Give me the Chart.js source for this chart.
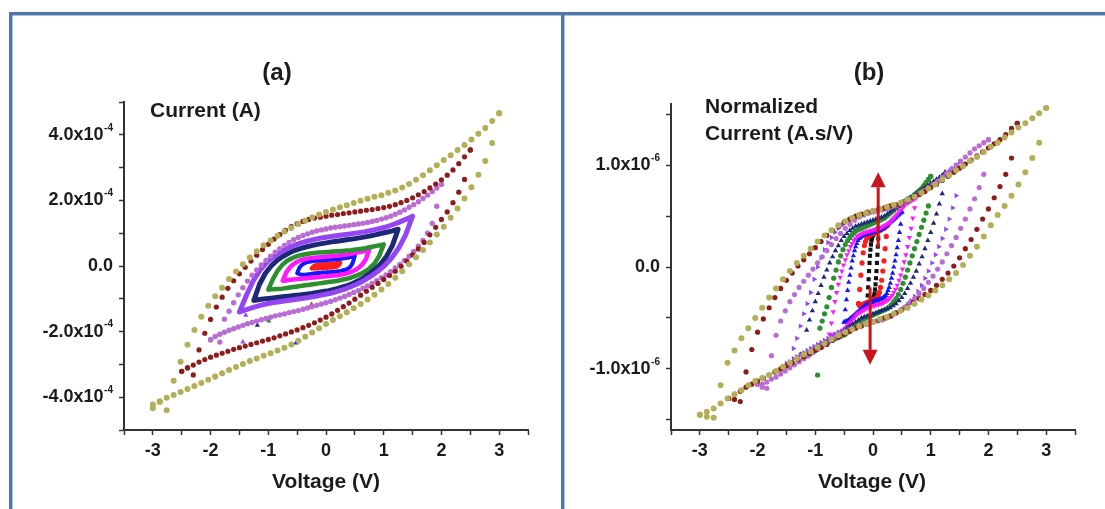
<!DOCTYPE html>
<html>
<head>
<meta charset="utf-8">
<title>Current–voltage sweeps</title>
<script src="https://cdn.jsdelivr.net/npm/chart.js@4.4.1/dist/chart.umd.min.js"></script>
<style>
  html, body { margin: 0; padding: 0; background: #ffffff; }
  body { position: relative; width: 1105px; height: 509px; overflow: hidden; }
  canvas { position: absolute; }
  #panelA { left: 12px; top: 15px; }
  #panelB { left: 565px; top: 15px; }
  .rule { position: absolute; background: #4f77aa; box-shadow: 0 0 1px 0.5px rgba(79,119,170,0.45); }
</style>
</head>
<body>
<div class="rule" style="left:9px;top:12px;width:1096px;height:3px"></div>
<div class="rule" style="left:9px;top:12px;width:3px;height:497px"></div>
<div class="rule" style="left:561px;top:12px;width:3px;height:497px"></div>
<canvas id="panelA" width="548" height="494"></canvas>
<canvas id="panelB" width="540" height="494"></canvas>
<script>
// ---- sweep positions, as a fraction of the vertex voltage ----
const sweepFine = [-1,-0.96,-0.92,-0.88,-0.84,-0.8,-0.76,-0.72,-0.68,-0.64,
  -0.6,-0.56,-0.52,-0.48,-0.44,-0.4,-0.36,-0.32,-0.28,-0.24,
  -0.2,-0.16,-0.12,-0.08,-0.04,0,0.04,0.08,0.12,0.16,
  0.2,0.24,0.28,0.32,0.36,0.4,0.44,0.48,0.52,0.56,
  0.6,0.64,0.68,0.72,0.76,0.8,0.84,0.88,0.92,0.96,1];
const sweepCoarse = [-1,-0.92,-0.84,-0.76,-0.68,-0.6,-0.52,-0.44,-0.36,-0.28,
  -0.2,-0.12,-0.04,0.04,0.12,0.2,0.28,0.36,0.44,0.52,
  0.6,0.68,0.76,0.84,0.92,1];

// vertex voltages (V) of each sweep
const vertexV = { olive: 3, wine: 2.5, orchid: 2, violet: 1.5, navy: 1.25, green: 1, magenta: 0.75, blue: 0.5, red: 0.25, black: 0.1 };

// ---- (a) current, units of 1e-4 A; Fwd = -V..+V, Rev = +V..-V ----
const aOliveFwd = [-4.34,-4.15,-4.40,-3.50,-2.92,-2.40,-1.95,-1.55,-1.21,-0.92,
  -0.66,-0.40,-0.17,0.05,0.26,0.45,0.63,0.78,0.92,1.05,
  1.16,1.28,1.38,1.48,1.57,1.65,1.72,1.79,1.85,1.92,
  1.99,2.05,2.11,2.16,2.23,2.30,2.39,2.50,2.63,2.77,
  2.92,3.07,3.23,3.38,3.54,3.69,3.86,4.03,4.21,4.42,4.66];
const aOliveRev = [4.66,3.75,3.20,2.78,2.40,2.06,1.75,1.47,1.20,0.96,
  0.72,0.49,0.27,0.05,-0.16,-0.36,-0.55,-0.72,-0.88,-1.02,
  -1.16,-1.29,-1.41,-1.53,-1.65,-1.77,-1.90,-2.03,-2.16,-2.28,
  -2.39,-2.49,-2.58,-2.66,-2.74,-2.82,-2.90,-2.99,-3.08,-3.17,
  -3.27,-3.37,-3.47,-3.57,-3.66,-3.75,-3.84,-3.93,-4.02,-4.12,-4.22];
const aWineFwd = [-3.21,-3.10,-3.32,-2.56,-2.05,-1.63,-1.25,-0.95,-0.68,-0.45,
  -0.24,-0.04,0.15,0.33,0.50,0.66,0.82,0.96,1.09,1.20,
  1.29,1.36,1.42,1.46,1.49,1.52,1.55,1.57,1.60,1.62,
  1.65,1.67,1.70,1.72,1.75,1.78,1.82,1.87,1.93,2.00,
  2.08,2.17,2.27,2.38,2.50,2.63,2.77,2.93,3.12,3.33,3.54];
const aWineRev = [3.54,2.64,2.25,1.93,1.65,1.42,1.18,0.95,0.72,0.52,
  0.34,0.15,-0.01,-0.16,-0.29,-0.41,-0.53,-0.65,-0.77,-0.89,
  -1.01,-1.13,-1.24,-1.35,-1.46,-1.56,-1.65,-1.73,-1.81,-1.88,
  -1.95,-2.01,-2.07,-2.13,-2.19,-2.24,-2.29,-2.34,-2.39,-2.44,
  -2.49,-2.54,-2.60,-2.66,-2.72,-2.78,-2.85,-2.93,-3.02,-3.11,-3.21];
const aOrchidFwd = [-2.25,-3.38,-2.32,-1.62,-1.38,-1.12,-0.88,-0.66,-0.46,-0.28,
  -0.12,0.03,0.17,0.30,0.42,0.53,0.63,0.72,0.80,0.87,
  0.93,0.98,1.03,1.07,1.10,1.13,1.16,1.18,1.20,1.22,
  1.24,1.26,1.28,1.30,1.33,1.36,1.39,1.43,1.47,1.52,
  1.58,1.64,1.71,1.79,1.87,1.96,2.06,2.16,2.27,2.38,2.49];
const aOrchidRev = [2.49,1.82,1.30,1.00,0.78,0.60,0.44,0.30,0.17,0.05,
  -0.06,-0.17,-0.27,-0.36,-0.45,-0.53,-0.61,-0.68,-0.75,-0.81,
  -0.87,-0.93,-0.98,-1.03,-1.08,-1.12,-1.16,-1.20,-1.24,-1.28,
  -1.32,-1.36,-1.39,-1.42,-1.46,-1.49,-1.52,-1.56,-1.60,-1.64,
  -1.68,-1.72,-1.76,-1.81,-1.86,-1.91,-1.96,-2.02,-2.08,-2.15,-2.25];
const aVioletFwd = [-1.40,-0.90,-0.45,-0.12,0.12,0.30,0.44,0.55,0.64,0.71,
  0.77,0.82,0.86,0.89,0.92,0.95,0.98,1.01,1.04,1.08,
  1.13,1.18,1.25,1.33,1.42,1.52];
const aVioletRev = [1.52,0.95,0.55,0.25,0.02,-0.16,-0.31,-0.44,-0.55,-0.64,
  -0.72,-0.78,-0.84,-0.88,-0.92,-0.96,-0.99,-1.02,-1.05,-1.08,
  -1.11,-1.15,-1.20,-1.26,-1.33,-1.40];
const aNavyFwd = [-1.05,-0.55,-0.22,0.00,0.17,0.29,0.39,0.47,0.53,0.58,
  0.62,0.66,0.69,0.72,0.75,0.77,0.80,0.82,0.85,0.88,
  0.91,0.95,0.99,1.03,1.07,1.12];
const aNavyRev = [1.12,0.62,0.30,0.07,-0.10,-0.24,-0.36,-0.46,-0.54,-0.61,
  -0.66,-0.71,-0.75,-0.78,-0.81,-0.84,-0.86,-0.88,-0.90,-0.92,
  -0.94,-0.96,-0.98,-1.00,-1.02,-1.05];
const aGreenFwd = [-0.72,-0.40,-0.15,0.03,0.15,0.23,0.29,0.33,0.36,0.38,
  0.40,0.41,0.42,0.43,0.44,0.45,0.46,0.47,0.48,0.50,
  0.52,0.54,0.57,0.60,0.63,0.66];
const aGreenRev = [0.66,0.30,0.08,-0.06,-0.16,-0.24,-0.30,-0.35,-0.39,-0.42,
  -0.45,-0.47,-0.49,-0.51,-0.53,-0.55,-0.57,-0.59,-0.61,-0.63,
  -0.65,-0.67,-0.69,-0.70,-0.71,-0.72];
const aMagentaFwd = [-0.45,-0.20,-0.05,0.05,0.12,0.17,0.20,0.22,0.24,0.25,
  0.26,0.27,0.28,0.29,0.30,0.31,0.32,0.33,0.34,0.36,
  0.38,0.40,0.42,0.44,0.47,0.50];
const aMagentaRev = [0.50,0.20,0.05,-0.05,-0.12,-0.17,-0.21,-0.24,-0.26,-0.28,
  -0.29,-0.30,-0.31,-0.32,-0.33,-0.34,-0.35,-0.36,-0.37,-0.38,
  -0.39,-0.40,-0.41,-0.42,-0.44,-0.45];
const aBlueFwd = [-0.22,-0.05,0.03,0.08,0.11,0.13,0.14,0.15,0.16,0.16,
  0.17,0.17,0.18,0.18,0.19,0.19,0.20,0.20,0.21,0.22,
  0.23,0.24,0.25,0.27,0.29,0.31];
const aBlueRev = [0.31,0.08,-0.03,-0.08,-0.11,-0.13,-0.15,-0.16,-0.17,-0.18,
  -0.18,-0.19,-0.19,-0.20,-0.20,-0.21,-0.21,-0.22,-0.23,-0.24,
  -0.25,-0.26,-0.27,-0.27,-0.25,-0.22];
const aRedFwd = [-0.08,-0.03,0.00,0.02,0.03,0.04,0.04,0.05,0.05,0.05,
  0.05,0.06,0.06,0.06,0.06,0.07,0.07,0.07,0.07,0.08,
  0.08,0.08,0.09,0.09,0.10,0.10];
const aRedRev = [0.10,0.04,0.00,-0.02,-0.03,-0.04,-0.04,-0.05,-0.05,-0.05,
  -0.05,-0.06,-0.06,-0.06,-0.06,-0.07,-0.07,-0.07,-0.07,-0.08,
  -0.08,-0.08,-0.08,-0.08,-0.08,-0.08];
// isolated first-step readings in (a)
const aStrayV = [-1.44, -1.39, -1.19, -0.99, -0.52, -0.25];
const aStrayI = [-2.32, -1.50, -1.81, -1.68, -2.35, -1.17];
const aStraySeries = ['violet', 'violet', 'navy', 'green', 'blue', 'red'];

// ---- (b) normalized current, units of 1e-6 A.s/V ----
const bOliveFwd = [-1.45,-1.47,-1.48,-1.16,-0.94,-0.82,-0.70,-0.60,-0.50,-0.40,
  -0.30,-0.21,-0.12,-0.04,0.04,0.11,0.18,0.25,0.31,0.36,
  0.41,0.45,0.48,0.51,0.53,0.55,0.57,0.59,0.61,0.63,
  0.66,0.69,0.73,0.77,0.81,0.86,0.90,0.95,0.99,1.04,
  1.08,1.13,1.18,1.22,1.27,1.32,1.37,1.41,1.46,1.51,1.56];
const bOliveRev = [1.56,1.22,1.07,0.93,0.81,0.70,0.60,0.51,0.41,0.30,
  0.20,0.11,0.02,-0.06,-0.12,-0.18,-0.23,-0.28,-0.32,-0.36,
  -0.40,-0.43,-0.46,-0.49,-0.51,-0.54,-0.56,-0.58,-0.61,-0.64,
  -0.67,-0.71,-0.75,-0.79,-0.83,-0.86,-0.90,-0.94,-0.98,-1.02,
  -1.06,-1.09,-1.12,-1.16,-1.21,-1.25,-1.29,-1.34,-1.39,-1.42,-1.45];
const bWineFwd = [-1.29,-1.30,-1.32,-1.03,-0.81,-0.64,-0.51,-0.40,-0.30,-0.21,
  -0.13,-0.06,0.01,0.07,0.13,0.19,0.25,0.31,0.36,0.40,
  0.44,0.47,0.50,0.52,0.54,0.55,0.57,0.58,0.60,0.61,
  0.63,0.65,0.68,0.71,0.74,0.78,0.81,0.85,0.89,0.93,
  0.97,1.01,1.05,1.09,1.13,1.17,1.21,1.25,1.30,1.36,1.41];
const bWineRev = [1.41,1.07,0.91,0.79,0.68,0.57,0.47,0.37,0.27,0.18,
  0.09,0.01,-0.06,-0.12,-0.18,-0.23,-0.27,-0.31,-0.35,-0.39,
  -0.42,-0.45,-0.48,-0.50,-0.52,-0.54,-0.56,-0.58,-0.60,-0.63,
  -0.66,-0.69,-0.72,-0.76,-0.79,-0.82,-0.85,-0.88,-0.91,-0.94,
  -0.97,-1.00,-1.03,-1.06,-1.09,-1.12,-1.15,-1.18,-1.22,-1.25,-1.29];
const bOrchidFwd = [-1.15,-1.18,-1.19,-0.87,-0.67,-0.53,-0.43,-0.34,-0.27,-0.20,
  -0.14,-0.08,-0.02,0.04,0.10,0.16,0.22,0.28,0.33,0.38,
  0.42,0.46,0.49,0.51,0.53,0.54,0.55,0.56,0.57,0.59,
  0.60,0.62,0.64,0.66,0.69,0.72,0.75,0.78,0.81,0.84,
  0.88,0.92,0.96,1.00,1.04,1.08,1.12,1.16,1.19,1.22,1.25];
const bOrchidRev = [1.25,0.91,0.78,0.67,0.57,0.47,0.38,0.29,0.21,0.13,
  0.05,-0.02,-0.09,-0.15,-0.21,-0.26,-0.31,-0.35,-0.39,-0.42,
  -0.45,-0.48,-0.50,-0.52,-0.53,-0.54,-0.55,-0.56,-0.58,-0.60,
  -0.62,-0.64,-0.66,-0.69,-0.72,-0.75,-0.78,-0.81,-0.84,-0.87,
  -0.90,-0.93,-0.96,-0.99,-1.02,-1.05,-1.08,-1.10,-1.13,-1.15,-1.15];
const bVioletFwd = [-0.95,-0.98,-0.80,-0.70,-0.58,-0.46,-0.36,-0.25,-0.12,0.00,
  0.09,0.17,0.24,0.29,0.34,0.38,0.41,0.44,0.46,0.48,
  0.49,0.50,0.51,0.52,0.53,0.54,0.55,0.56,0.57,0.58,
  0.59,0.60,0.61,0.62,0.63,0.65,0.67,0.69,0.71,0.73,
  0.75,0.77,0.79,0.82,0.85,0.88,0.91,0.94,0.97,1.00,1.03];
const bVioletRev = [1.03,0.70,0.58,0.47,0.37,0.28,0.20,0.12,0.04,-0.04,
  -0.11,-0.18,-0.24,-0.29,-0.33,-0.37,-0.40,-0.43,-0.45,-0.47,
  -0.49,-0.50,-0.51,-0.52,-0.53,-0.54,-0.55,-0.56,-0.57,-0.58,
  -0.59,-0.60,-0.61,-0.62,-0.63,-0.64,-0.66,-0.68,-0.70,-0.72,
  -0.74,-0.76,-0.78,-0.80,-0.82,-0.84,-0.86,-0.88,-0.90,-0.93,-0.95];
const bNavyFwd = [-0.86,-0.88,-0.62,-0.52,-0.43,-0.34,-0.26,-0.18,-0.10,-0.03,
  0.04,0.10,0.16,0.21,0.26,0.30,0.33,0.36,0.38,0.40,
  0.41,0.42,0.43,0.44,0.45,0.46,0.47,0.48,0.49,0.50,
  0.52,0.54,0.56,0.58,0.60,0.62,0.64,0.66,0.68,0.70,
  0.72,0.74,0.76,0.78,0.80,0.82,0.84,0.86,0.88,0.90,0.93];
const bNavyRev = [0.93,0.72,0.62,0.52,0.43,0.34,0.26,0.18,0.10,0.03,
  -0.04,-0.10,-0.16,-0.21,-0.26,-0.30,-0.33,-0.36,-0.38,-0.40,
  -0.41,-0.42,-0.43,-0.44,-0.45,-0.46,-0.47,-0.48,-0.49,-0.50,
  -0.52,-0.54,-0.56,-0.58,-0.60,-0.62,-0.64,-0.66,-0.68,-0.70,
  -0.72,-0.74,-0.76,-0.78,-0.80,-0.82,-0.84,-0.86,-0.88,-0.90,-0.86];
const bGreenFwd = [-0.80,-1.06,-0.60,-0.53,-0.46,-0.39,-0.30,-0.20,-0.11,-0.03,
  0.05,0.11,0.17,0.22,0.26,0.29,0.32,0.34,0.36,0.37,
  0.38,0.39,0.40,0.41,0.42,0.43,0.44,0.45,0.46,0.47,
  0.48,0.50,0.52,0.54,0.56,0.58,0.60,0.62,0.64,0.65,
  0.67,0.68,0.69,0.71,0.73,0.75,0.77,0.80,0.83,0.86,0.89];
const bGreenRev = [0.89,0.60,0.53,0.46,0.39,0.32,0.25,0.18,0.11,0.04,
  -0.03,-0.10,-0.16,-0.22,-0.27,-0.31,-0.34,-0.37,-0.39,-0.41,
  -0.42,-0.43,-0.44,-0.45,-0.46,-0.47,-0.48,-0.49,-0.50,-0.51,
  -0.52,-0.54,-0.56,-0.58,-0.60,-0.62,-0.64,-0.66,-0.67,-0.68,
  -0.69,-0.70,-0.71,-0.72,-0.73,-0.74,-0.75,-0.76,-0.77,-0.78,-0.80];
const bMagentaFwd = [-0.66,-0.55,-0.44,-0.34,-0.25,-0.17,-0.10,-0.04,0.02,0.07,
  0.12,0.16,0.20,0.23,0.26,0.28,0.30,0.31,0.32,0.33,
  0.34,0.34,0.35,0.35,0.36,0.36,0.37,0.37,0.38,0.38,
  0.39,0.40,0.41,0.42,0.43,0.44,0.46,0.48,0.50,0.52,
  0.54,0.56,0.58,0.60,0.62,0.63,0.64,0.65,0.66,0.67,0.68];
const bMagentaRev = [0.68,0.58,0.48,0.38,0.29,0.20,0.12,0.05,-0.02,-0.08,
  -0.13,-0.18,-0.22,-0.25,-0.28,-0.30,-0.32,-0.33,-0.34,-0.35,
  -0.36,-0.36,-0.37,-0.37,-0.38,-0.38,-0.39,-0.39,-0.40,-0.41,
  -0.42,-0.43,-0.44,-0.45,-0.46,-0.48,-0.50,-0.52,-0.54,-0.56,
  -0.58,-0.60,-0.62,-0.63,-0.64,-0.65,-0.66,-0.66,-0.67,-0.67,-0.66];
const bBlueFwd = [-0.54,-0.42,-0.32,-0.23,-0.15,-0.08,-0.01,0.06,0.11,0.16,
  0.20,0.23,0.26,0.28,0.29,0.30,0.31,0.31,0.32,0.32,
  0.32,0.33,0.33,0.33,0.34,0.34,0.34,0.35,0.35,0.35,
  0.36,0.36,0.37,0.37,0.38,0.39,0.40,0.41,0.42,0.43,
  0.44,0.45,0.46,0.47,0.48,0.49,0.50,0.51,0.52,0.53,0.54];
const bBlueRev = [0.54,0.42,0.34,0.26,0.19,0.12,0.06,0.00,-0.06,-0.11,
  -0.16,-0.20,-0.23,-0.26,-0.28,-0.29,-0.30,-0.31,-0.31,-0.32,
  -0.32,-0.33,-0.33,-0.33,-0.34,-0.34,-0.35,-0.35,-0.36,-0.36,
  -0.37,-0.37,-0.38,-0.39,-0.40,-0.41,-0.42,-0.43,-0.44,-0.45,
  -0.46,-0.47,-0.48,-0.49,-0.50,-0.51,-0.52,-0.53,-0.53,-0.54,-0.54];
const bRedFwd = [-0.36,-0.22,-0.08,0.04,0.14,0.21,0.25,0.28,0.30,0.31,
  0.32,0.32,0.33,0.33,0.34,0.34,0.35,0.35,0.36,0.36,
  0.37,0.38,0.38,0.39,0.40,0.41];
const bRedRev = [0.41,0.30,0.18,0.06,-0.04,-0.13,-0.20,-0.25,-0.28,-0.30,
  -0.31,-0.32,-0.32,-0.33,-0.33,-0.34,-0.34,-0.35,-0.35,-0.36,
  -0.36,-0.37,-0.37,-0.38,-0.38,-0.36];
const bBlackFwd = [-0.35,-0.28,-0.20,-0.12,-0.04,0.04,0.11,0.17,0.22,0.26,
  0.28,0.30,0.31,0.32,0.33,0.33,0.34,0.34,0.35,0.35,
  0.36,0.36,0.37,0.37,0.38,0.38];
const bBlackRev = [0.38,0.28,0.20,0.12,0.04,-0.04,-0.11,-0.17,-0.22,-0.26,
  -0.28,-0.30,-0.31,-0.32,-0.33,-0.33,-0.34,-0.34,-0.35,-0.35,
  -0.36,-0.36,-0.37,-0.37,-0.37,-0.35];

// arrows in (b): voltage position, start and end current (1e-6 A.s/V)
const arrowV = [0.09, -0.05];
const arrowFrom = [0.19, -0.20];
const arrowTo = [0.93, -0.96];

// axis tick labels
const aTickValues = [4, 2, 0, -2, -4];
const aTickLabels = ['4.0x10', '2.0x10', '0.0', '-2.0x10', '-4.0x10'];
const aTickPowers = ['-4', '-4', '', '-4', '-4'];
const bTickValues = [1, 0, -1];
const bTickLabels = ['1.0x10', '0.0', '-1.0x10'];
const bTickPowers = ['-6', '', '-6'];

// ---- styling ----
const FONT = '"Liberation Sans", Arial, Helvetica, sans-serif';
const INK = '#1b1b1b';
const AXIS = '#333333';
const colors = {
  olive: '#b3af57', wine: '#8f1c1c', orchid: '#b96dd4', violet: '#9446f4', navy: '#1d2877',
  green: '#2c902f', magenta: '#ff18ff', blue: '#1616ff', red: '#ff1c1c', black: '#111111'
};
const shapes = {
  olive: ['circle', 0], wine: ['circle', 0], orchid: ['circle', 0], violet: ['triangle', 90],
  navy: ['triangle', 0], green: ['circle', 0], magenta: ['triangle', 180], blue: ['triangle', 0],
  red: ['circle', 0], black: ['rect', 0]
};

Chart.defaults.font.family = FONT;

function sweepLoop(amp, grid, fwd, rev) {
  const pts = fwd.map((y, i) => ({ x: amp * grid[i], y }));
  rev.forEach((y, i) => pts.push({ x: -amp * grid[i], y }));
  return pts;
}

function dotSet(key, pts, r) {
  const [shape, rot] = shapes[key];
  return {
    data: pts, showLine: false, pointStyle: shape, rotation: rot,
    pointRadius: shape === 'circle' ? r : r + 0.5, pointBorderWidth: 0,
    pointBackgroundColor: colors[key], pointBorderColor: colors[key]
  };
}

function bandSet(key, pts, w) {
  return {
    data: pts, showLine: true, borderColor: colors[key], borderWidth: w,
    borderJoinStyle: 'round', borderCapStyle: 'round', pointRadius: 0, tension: 0, fill: false
  };
}

function axes(yMin, yMax, yStep) {
  const grid = { drawOnChartArea: false, drawTicks: true, tickLength: 5, color: AXIS, tickWidth: 1.5 };
  const border = { display: true, color: AXIS, width: 2 };
  return {
    x: {
      type: 'linear', min: -3.5, max: 3.5, grid, border,
      ticks: {
        stepSize: 0.5, autoSkip: false, maxRotation: 0, includeBounds: false, padding: 5,
        color: INK, font: { size: 18, weight: 'bold' },
        callback: v => Math.abs(v - Math.round(v)) < 1e-9 ? String(Math.round(v)) : ''
      },
      afterFit: s => { s.height = 79; }
    },
    y: {
      type: 'linear', min: yMin, max: yMax, grid, border,
      ticks: { stepSize: yStep, autoSkip: false, includeBounds: false, callback: () => '', font: { size: 18 } },
      afterFit: s => { s.width = 60; }
    }
  };
}

function textPlugin(cfg) {
  return {
    id: 'panelText',
    afterDraw(chart) {
      const ctx = chart.ctx;
      const ys = chart.scales.y;
      ctx.save();
      ctx.fillStyle = INK;
      ctx.textBaseline = 'middle';
      const right = chart.chartArea.left - 11;
      cfg.tickValues.forEach((v, i) => {
        const py = ys.getPixelForValue(v);
        const power = cfg.tickPowers[i];
        ctx.font = 'bold 10px ' + FONT;
        const pw = power ? ctx.measureText(power).width + 0.5 : 0;
        ctx.font = 'bold 18px ' + FONT;
        ctx.textAlign = 'right';
        ctx.fillText(cfg.tickLabels[i], right - pw, py);
        if (power) {
          ctx.font = 'bold 10px ' + FONT;
          ctx.textAlign = 'left';
          ctx.fillText(power, right - pw + 0.5, py - 7);
        }
      });
      cfg.texts.forEach(t => {
        ctx.font = 'bold ' + t.size + 'px ' + FONT;
        ctx.textAlign = t.align;
        ctx.fillText(t.text, t.x, t.y);
      });
      ctx.restore();
    }
  };
}

function arrowPlugin(xs, from, to, color) {
  return {
    id: 'arrows',
    afterDatasetsDraw(chart) {
      const { ctx, scales: { x, y } } = chart;
      ctx.save();
      ctx.strokeStyle = color;
      ctx.fillStyle = color;
      ctx.lineWidth = 3;
      xs.forEach((xv, i) => {
        const px = x.getPixelForValue(xv);
        const p0 = y.getPixelForValue(from[i]);
        const p1 = y.getPixelForValue(to[i]);
        const dir = Math.sign(p1 - p0);
        const head = 15, half = 7.5;
        ctx.beginPath();
        ctx.moveTo(px, p0);
        ctx.lineTo(px, p1 - dir * head);
        ctx.stroke();
        ctx.beginPath();
        ctx.moveTo(px, p1);
        ctx.lineTo(px - half, p1 - dir * head);
        ctx.lineTo(px + half, p1 - dir * head);
        ctx.closePath();
        ctx.fill();
      });
      ctx.restore();
    }
  };
}

const baseOptions = (padding, scales) => ({
  responsive: false, animation: false, devicePixelRatio: 1,
  layout: { padding },
  plugins: { legend: { display: false }, tooltip: { enabled: false } },
  scales
});

// ---- panel (a) ----
const V = vertexV;
const datasetsA = [
  dotSet('olive', sweepLoop(V.olive, sweepFine, aOliveFwd, aOliveRev), 3),
  dotSet('wine', sweepLoop(V.wine, sweepFine, aWineFwd, aWineRev), 2.6),
  dotSet('orchid', sweepLoop(V.orchid, sweepFine, aOrchidFwd, aOrchidRev), 2.7),
  bandSet('violet', sweepLoop(V.violet, sweepCoarse, aVioletFwd, aVioletRev), 5),
  bandSet('navy', sweepLoop(V.navy, sweepCoarse, aNavyFwd, aNavyRev), 5),
  bandSet('green', sweepLoop(V.green, sweepCoarse, aGreenFwd, aGreenRev), 4.5),
  bandSet('magenta', sweepLoop(V.magenta, sweepCoarse, aMagentaFwd, aMagentaRev), 4.5),
  bandSet('blue', sweepLoop(V.blue, sweepCoarse, aBlueFwd, aBlueRev), 4),
  bandSet('red', sweepLoop(V.red, sweepCoarse, aRedFwd, aRedRev), 4),
  {
    data: aStrayV.map((x, i) => ({ x, y: aStrayI[i] })), showLine: false,
    pointStyle: 'triangle', pointRadius: 3, pointBorderWidth: 0,
    pointBackgroundColor: aStraySeries.map(k => colors[k]),
    pointBorderColor: aStraySeries.map(k => colors[k])
  }
];

new Chart(document.getElementById('panelA'), {
  type: 'scatter',
  data: { datasets: datasetsA },
  options: baseOptions({ left: 52, right: 32, top: 87, bottom: 0 }, axes(-5, 5, 1)),
  plugins: [textPlugin({
    tickValues: aTickValues, tickLabels: aTickLabels, tickPowers: aTickPowers,
    texts: [
      { text: '(a)', x: 265, y: 58, size: 24, align: 'center' },
      { text: 'Current (A)', x: 138, y: 96, size: 21, align: 'left' },
      { text: 'Voltage (V)', x: 314, y: 467, size: 21, align: 'center' }
    ]
  })]
});

// ---- panel (b) ----
const datasetsB = [
  dotSet('olive', sweepLoop(V.olive, sweepFine, bOliveFwd, bOliveRev), 3),
  dotSet('wine', sweepLoop(V.wine, sweepFine, bWineFwd, bWineRev), 2.6),
  dotSet('orchid', sweepLoop(V.orchid, sweepFine, bOrchidFwd, bOrchidRev), 2.6),
  dotSet('violet', sweepLoop(V.violet, sweepFine, bVioletFwd, bVioletRev), 2.6),
  dotSet('navy', sweepLoop(V.navy, sweepFine, bNavyFwd, bNavyRev), 2.6),
  dotSet('green', sweepLoop(V.green, sweepFine, bGreenFwd, bGreenRev), 2.6),
  dotSet('magenta', sweepLoop(V.magenta, sweepFine, bMagentaFwd, bMagentaRev), 2.6),
  dotSet('blue', sweepLoop(V.blue, sweepFine, bBlueFwd, bBlueRev), 2.6),
  dotSet('red', sweepLoop(V.red, sweepCoarse, bRedFwd, bRedRev), 2.6),
  dotSet('black', sweepLoop(V.black, sweepCoarse, bBlackFwd, bBlackRev), 2.4)
];

new Chart(document.getElementById('panelB'), {
  type: 'scatter',
  data: { datasets: datasetsB },
  options: baseOptions({ left: 46, right: 30, top: 89, bottom: 0 }, axes(-1.6, 1.6, 0.5)),
  plugins: [
    textPlugin({
      tickValues: bTickValues, tickLabels: bTickLabels, tickPowers: bTickPowers,
      texts: [
        { text: '(b)', x: 304, y: 58, size: 24, align: 'center' },
        { text: 'Normalized', x: 140, y: 92, size: 21, align: 'left' },
        { text: 'Current (A.s/V)', x: 140, y: 119, size: 21, align: 'left' },
        { text: 'Voltage (V)', x: 307, y: 467, size: 21, align: 'center' }
      ]
    }),
    arrowPlugin(arrowV, arrowFrom, arrowTo, '#c4161c')
  ]
});
</script>
</body>
</html>
